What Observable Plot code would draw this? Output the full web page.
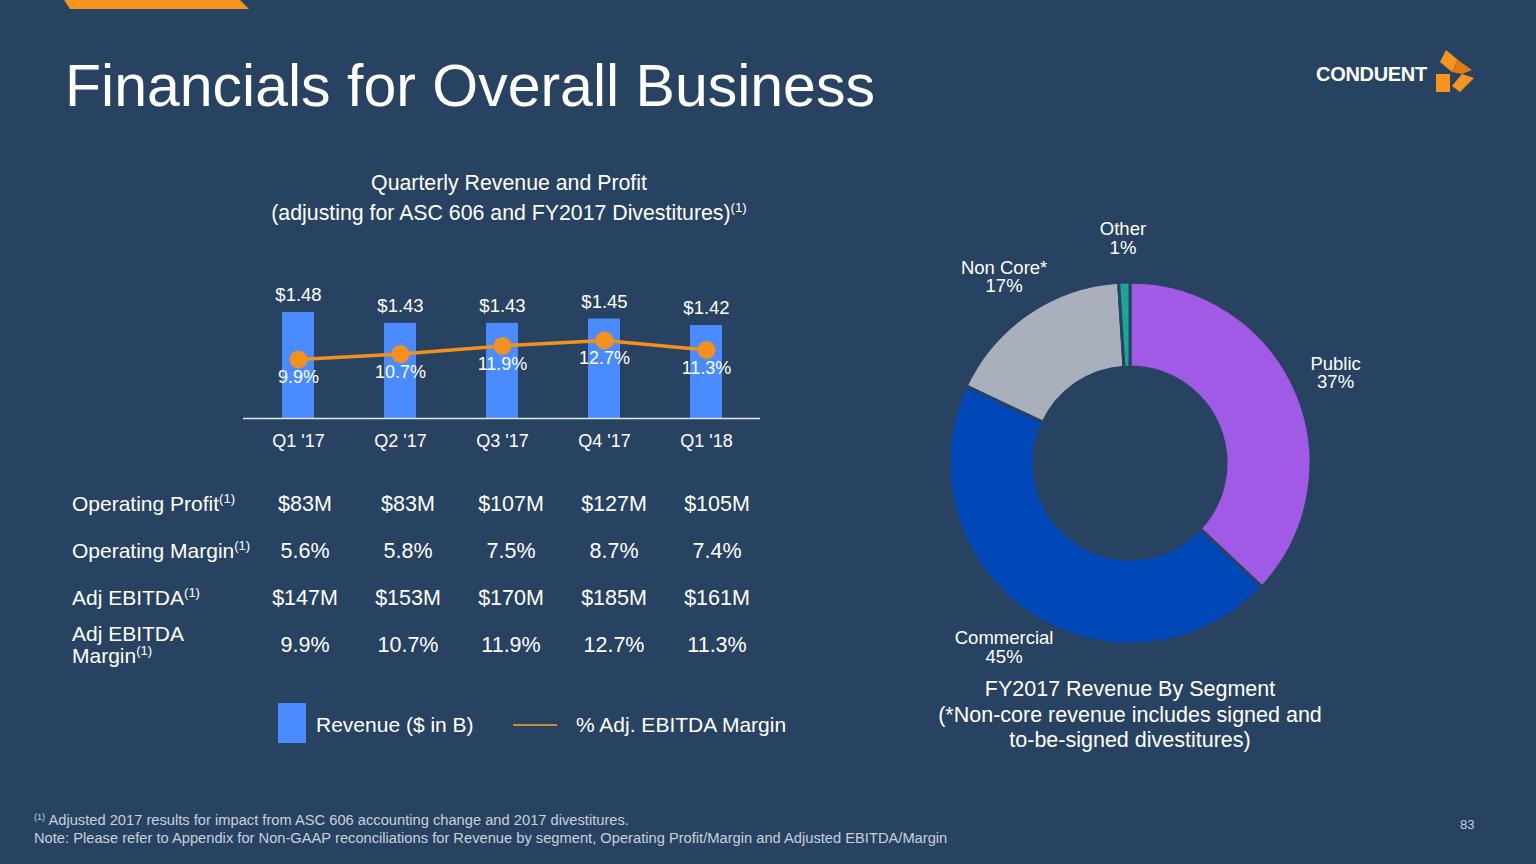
<!DOCTYPE html>
<html>
<head>
<meta charset="utf-8">
<script src="https://cdn.jsdelivr.net/npm/d3@7"></script>
<script src="https://cdn.jsdelivr.net/npm/@observablehq/plot@0.6"></script>
<style>
html,body{margin:0;padding:0;background:#284361;}
#slide{position:relative;width:1536px;height:864px;background:#284361;overflow:hidden;font-family:"Liberation Sans",Arial,sans-serif;color:#fff;}
.abs{position:absolute;white-space:nowrap;}
sup{font-size:62%;vertical-align:0.6em;line-height:0;}
.plotbox{position:absolute;}
.plotbox svg{overflow:visible;}
</style>
</head>
<body>
<div id="slide">
  <svg class="abs" style="left:0;top:0" width="300" height="12"><polygon points="64,0 240,0 249,9 70,9" fill="#f7941d"/></svg>
  <div class="abs" style="left:65px;top:51px;font-size:59px;line-height:70px;">Financials for Overall Business</div>
  <div class="abs" style="left:1316px;top:61px;font-size:20px;line-height:26px;font-weight:bold;letter-spacing:-0.3px;">CONDUENT</div>
  <svg class="abs" style="left:1432px;top:48px" width="48" height="48" viewBox="0 0 48 48">
    <polygon points="14,2 26,12 20,24 8,14" fill="#f7941d"/>
    <polygon points="26,12 40,22 30,26 20,24" fill="#e07a12"/>
    <polygon points="4,26 18,26 18,44 4,44" fill="#f7941d"/>
    <polygon points="30,26 42,30 28,44 20,38" fill="#f7941d"/>
  </svg>
  <div class="abs" style="left:209px;top:168px;width:600px;text-align:center;font-size:21.3px;line-height:30px;">Quarterly Revenue and Profit<br>(adjusting for ASC 606 and FY2017 Divestitures)<sup>(1)</sup></div>

  <div id="bars" class="plotbox" style="left:243px;top:270px;"></div>
  <div id="line" class="plotbox" style="left:243px;top:270px;"></div>
  <div id="rowlabels"></div>
  <div id="table" class="plotbox" style="left:252px;top:480px;"></div>

  <div class="abs" style="left:278px;top:703px;width:28px;height:40px;background:#4a8cff;"></div>
  <div class="abs" style="left:316px;top:712px;font-size:21px;line-height:26px;">Revenue ($ in B)</div>
  <div class="abs" style="left:513px;top:724px;width:44px;height:2px;background:#c98a3a;"></div>
  <div class="abs" style="left:576px;top:712px;font-size:21px;line-height:26px;">% Adj. EBITDA Margin</div>

  <div id="donut" class="plotbox" style="left:840px;top:220px;"></div>
  <div class="abs" style="left:880px;top:677px;width:500px;text-align:center;font-size:21.5px;line-height:25.5px;">FY2017 Revenue By Segment<br>(*Non-core revenue includes signed and<br>to-be-signed divestitures)</div>

  <div class="abs" style="left:34px;top:812px;font-size:14.7px;line-height:17.5px;color:#c9d0da;"><sup>(1)</sup> Adjusted 2017 results for impact from ASC 606 accounting change and 2017 divestitures.<br>Note: Please refer to Appendix for Non-GAAP reconciliations for Revenue by segment, Operating Profit/Margin and Adjusted EBITDA/Margin</div>
  <div class="abs" style="left:1460px;top:816px;font-size:13px;line-height:18px;color:#c9d0da;">83</div>
</div>
<script>
// ---- data ----
const quarters = ["Q1 '17", "Q2 '17", "Q3 '17", "Q4 '17", "Q1 '18"];
const revenue = [1.48, 1.43, 1.43, 1.45, 1.42];          // $ in B
const adjEbitdaMargin = [9.9, 10.7, 11.9, 12.7, 11.3];    // %
const operatingProfit = [83, 83, 107, 127, 105];          // $M
const operatingMargin = [5.6, 5.8, 7.5, 8.7, 7.4];        // %
const adjEbitda = [147, 153, 170, 185, 161];              // $M
const metricLabels = ["Operating Profit", "Operating Margin", "Adj EBITDA", "Adj EBITDA Margin"];
const segments = ["Public", "Commercial", "Non Core*", "Other"];
const segmentShare = [37, 45, 17, 1];                     // %

// ---- styles ----
const BG = "#284361";
const BAR = "#4a8cff";
const ORANGE = "#f4901e";
const segmentColors = ["#a05ae6", "#0047b8", "#aab0bb", "#19a79a"];
const FONT = '"Liberation Sans", Arial, sans-serif';
const revenueAxisMin = 0.99;

const revData = quarters.map((q, i) => ({quarter: q, revenue: revenue[i], margin: adjEbitdaMargin[i]}));
const xBand = {type: "band", domain: quarters, paddingInner: 0.69, paddingOuter: 0.355};
const common = {width: 517, height: 190, marginLeft: 0, marginRight: 0, marginTop: 20, marginBottom: 42,
  style: {background: "transparent", color: "#fff", fontFamily: FONT}};

const barPlot = Plot.plot({
  ...common,
  x: {...xBand, label: null},
  y: {domain: [revenueAxisMin, 1.582], axis: null},
  marks: [
    Plot.barY(revData, {x: "quarter", y1: revenueAxisMin, y2: "revenue", fill: BAR}),
    Plot.ruleY([revenueAxisMin], {stroke: "#e4e8ee", strokeWidth: 1.5}),
    Plot.text(revData, {x: "quarter", y: "revenue", text: d => "$" + d.revenue.toFixed(2), dy: -17, fontSize: 18.5, fill: "#fff"}),
    Plot.axisX({tickSize: 0, tickPadding: 15.5, fontSize: 18, fill: "#fff", label: null})
  ]
});
document.getElementById("bars").append(barPlot);

const linePlot = Plot.plot({
  ...common,
  x: {...xBand, axis: null},
  y: {domain: [1.21, 20.06], axis: null},
  marks: [
    Plot.line(revData, {x: "quarter", y: "margin", stroke: ORANGE, strokeWidth: 3.5}),
    Plot.dot(revData, {x: "quarter", y: "margin", r: 9, fill: ORANGE}),
    Plot.text(revData, {x: "quarter", y: "margin", text: d => d.margin.toFixed(1) + "%", dy: 18, fontSize: 18, fill: "#fff"})
  ]
});
document.getElementById("line").append(linePlot);

// ---- table ----
const tableRows = [
  {metric: metricLabels[0], values: operatingProfit, fmt: v => `$${v}M`},
  {metric: metricLabels[1], values: operatingMargin, fmt: v => `${v.toFixed(1)}%`},
  {metric: metricLabels[2], values: adjEbitda, fmt: v => `$${v}M`},
  {metric: metricLabels[3], values: adjEbitdaMargin, fmt: v => `${v.toFixed(1)}%`}
];
const tableData = tableRows.flatMap(r => quarters.map((q, i) => ({metric: r.metric, quarter: q, label: r.fmt(r.values[i])})));
const tablePlot = Plot.plot({
  width: 516, height: 190, marginLeft: 0, marginRight: 0, marginTop: 23, marginBottom: 25,
  style: {background: "transparent", color: "#fff", fontFamily: FONT},
  x: {type: "band", domain: quarters, padding: 0, axis: null},
  y: {type: "point", domain: metricLabels, padding: 0, axis: null},
  marks: [Plot.text(tableData, {x: "quarter", y: "metric", text: "label", fontSize: 21.5, fill: "#fff"})]
});
document.getElementById("table").append(tablePlot);

// row labels (HTML for superscripts), positioned from the table's y scale
const yScale = tablePlot.scale("y");
const rl = document.getElementById("rowlabels");
metricLabels.forEach(m => {
  const yc = 480 + yScale.apply(m);
  const div = document.createElement("div");
  div.className = "abs";
  const twoLine = m === "Adj EBITDA Margin";
  const lh = twoLine ? 22 : 24;
  div.style.cssText = `left:72px;top:${yc - (twoLine ? lh : lh / 2)}px;font-size:21px;line-height:${lh}px;`;
  div.innerHTML = twoLine ? "Adj EBITDA<br>Margin<sup>(1)</sup>" : `${m}<sup>(1)</sup>`;
  rl.append(div);
});

// ---- donut ----
const segData = segments.map((s, i) => ({segment: s, share: segmentShare[i], color: segmentColors[i]}));
function donutMark(index, scales, values, dims) {
  const cx = dims.width / 2, cy = dims.height / 2;
  const g = d3.create("svg:g").attr("transform", `translate(${cx},${cy})`);
  const arcs = d3.pie().value(d => d.share).sort(null)(segData);
  const arc = d3.arc().innerRadius(96).outerRadius(181);
  g.selectAll("path").data(arcs).join("path")
    .attr("d", arc).attr("fill", d => d.data.color)
    .attr("stroke", BG).attr("stroke-width", 3);
  const labelArc = d3.arc().innerRadius(224).outerRadius(224);
  const t = g.selectAll("text").data(arcs).join("text")
    .attr("transform", d => `translate(${labelArc.centroid(d)})`)
    .attr("text-anchor", "middle").attr("fill", "#fff")
    .attr("font-size", 18.5).attr("font-family", FONT);
  t.append("tspan").attr("x", 0).attr("dy", "-0.22em").text(d => d.data.segment);
  t.append("tspan").attr("x", 0).attr("dy", "1.0em").text(d => d.data.share + "%");
  return g.node();
}
const donutPlot = Plot.plot({
  width: 580, height: 486, margin: 0,
  style: {background: "transparent", color: "#fff", fontFamily: FONT},
  marks: [donutMark]
});
document.getElementById("donut").append(donutPlot);
</script>
</body>
</html>
